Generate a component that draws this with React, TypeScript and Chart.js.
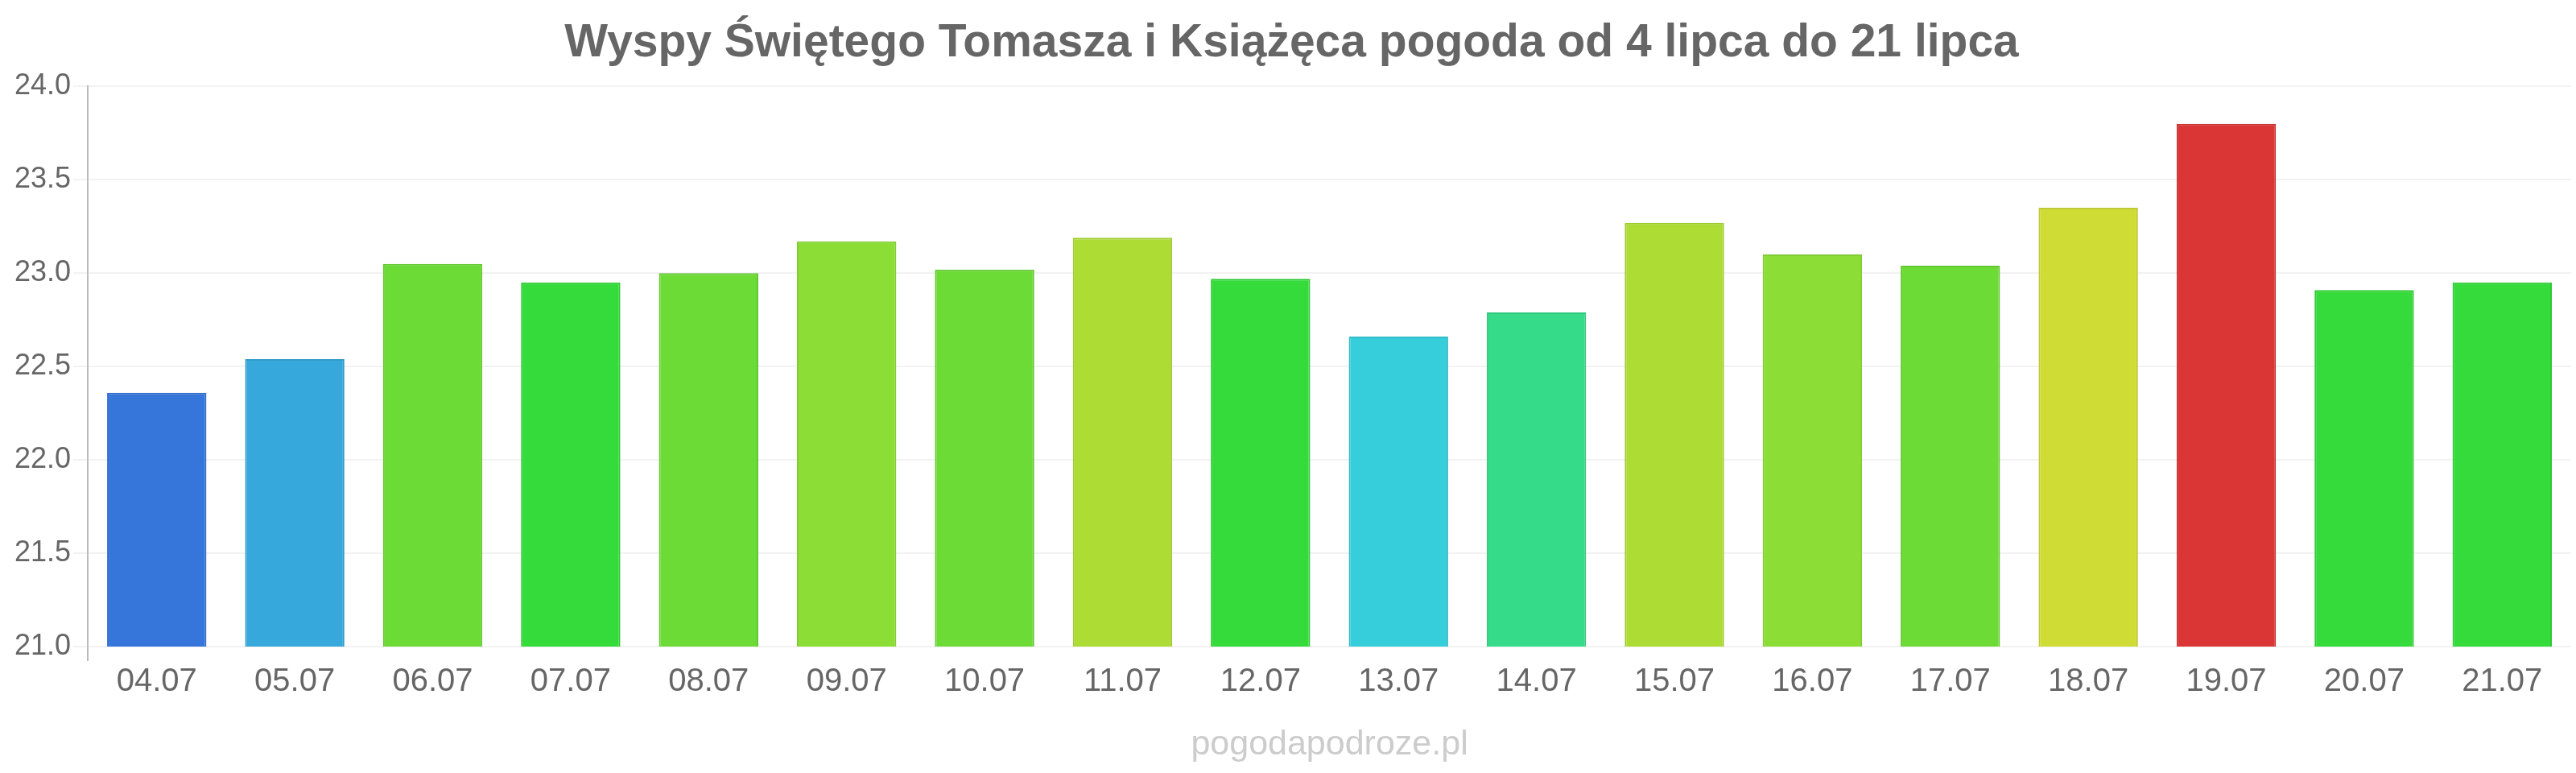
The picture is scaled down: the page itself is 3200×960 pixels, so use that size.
import React, { useEffect, useRef } from "react";
import { Chart, registerables } from "chart.js";

Chart.register(...registerables);

const TITLE = "Wyspy Świętego Tomasza i Książęca pogoda od 4 lipca do 21 lipca";
const WATERMARK = "pogodapodroze.pl";

const categories = [
  "04.07", "05.07", "06.07", "07.07", "08.07", "09.07", "10.07", "11.07", "12.07",
  "13.07", "14.07", "15.07", "16.07", "17.07", "18.07", "19.07", "20.07", "21.07",
];

const temperatures = [
  22.36, 22.54, 23.05, 22.95, 23.0, 23.17, 23.02, 23.19, 22.97,
  22.66, 22.79, 23.27, 23.1, 23.04, 23.35, 23.8, 22.91, 22.95,
];

const barColors = [
  "rgb(54,118,219)", "rgb(54,168,219)", "rgb(108,219,54)", "rgb(52,219,58)",
  "rgb(108,219,54)", "rgb(140,222,54)", "rgb(108,219,54)", "rgb(173,221,52)",
  "rgb(52,219,58)", "rgb(54,206,219)", "rgb(54,219,138)", "rgb(173,221,52)",
  "rgb(140,222,54)", "rgb(108,219,54)", "rgb(207,220,54)", "rgb(219,54,54)",
  "rgb(52,219,58)", "rgb(52,219,58)",
];

const yTicks = { min: 21, max: 24, step: 0.5 };

function darken(c: string, f: number) {
  const m = c.match(/\d+/g) || ["0", "0", "0"];
  const [r, g, b] = m.map((v) => Math.round(parseInt(v, 10) * f));
  return `rgb(${r},${g},${b})`;
}

const FONT = "'Liberation Sans', Arial, Helvetica, sans-serif";

const watermarkPlugin = {
  id: "watermark",
  afterDraw(chart: any) {
    const { ctx, chartArea } = chart;
    ctx.save();
    ctx.font = `normal 43px ${FONT}`;
    ctx.fillStyle = "#cccccc";
    ctx.textAlign = "center";
    ctx.textBaseline = "middle";
    ctx.fillText(WATERMARK, (chartArea.left + chartArea.right) / 2, chart.height - 35);
    ctx.restore();
  },
};

export default function App() {
  const ref = useRef<HTMLCanvasElement | null>(null);

  useEffect(() => {
    if (!ref.current) return;
    const chart = new Chart(ref.current, {
      type: "bar",
      data: {
        labels: categories,
        datasets: [
          {
            data: temperatures,
            backgroundColor: barColors,
            borderColor: barColors.map((c) => darken(c, 0.92)),
            borderWidth: 2,
          },
        ],
      },
      plugins: [watermarkPlugin],
      options: {
        responsive: false,
        animation: false,
        devicePixelRatio: 1,
        layout: { padding: { left: 15, right: 6, top: 0, bottom: 87 } },
        plugins: {
          legend: { display: false },
          tooltip: { enabled: false },
          title: {
            display: true,
            text: TITLE,
            color: "#666666",
            font: { family: FONT, size: 57, weight: "bold" },
            padding: { top: 20, bottom: 19 },
          },
        },
        scales: {
          x: {
            grid: {
              display: true,
              drawOnChartArea: false,
              drawTicks: true,
              tickLength: 18,
              lineWidth: 2,
              color: (ctx: any) => (ctx.index === 0 ? "#bbbbbb" : "rgba(0,0,0,0)"),
            },
            border: { display: false },
            ticks: {
              color: "#666666",
              font: { family: FONT, size: 40 },
              padding: 2,
              maxRotation: 0,
            },
          },
          y: {
            min: yTicks.min,
            max: yTicks.max,
            grid: {
              color: "#f2f2f2",
              lineWidth: 2,
              tickLength: 18,
            },
            border: { display: true, color: "#bbbbbb", width: 2 },
            ticks: {
              stepSize: yTicks.step,
              color: "#666666",
              font: { family: FONT, size: 36 },
              padding: 3,
              callback: (v: any) => Number(v).toFixed(1),
            },
          },
        },
      },
    });
    return () => chart.destroy();
  }, []);

  return (
    <div style={{ position: "fixed", left: 0, top: 0, width: 3200, height: 960, background: "#ffffff" }}>
      <canvas ref={ref} width={3200} height={960} style={{ width: 3200, height: 960, display: "block" }} />
    </div>
  );
}
